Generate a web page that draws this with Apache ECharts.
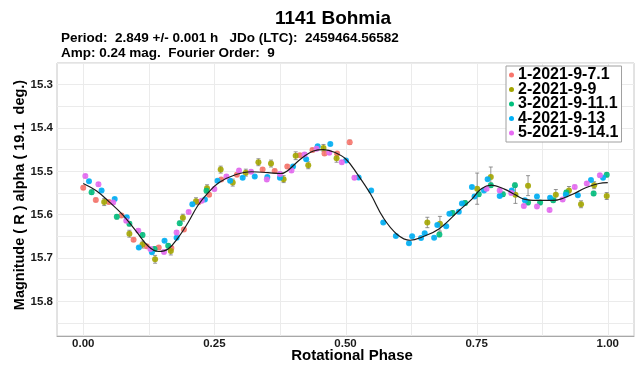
<!DOCTYPE html>
<html><head><meta charset="utf-8">
<script src="https://cdn.jsdelivr.net/npm/echarts@6/dist/echarts.min.js"></script>
<style>html,body{margin:0;padding:0;background:#fff}#c{width:637px;height:365px}</style>
</head><body><div id="c"></div>
<script>
const titleText = '1141 Bohmia';
const subLine1 = 'Period:  2.849 +/- 0.001 h   JDo (LTC):  2459464.56582';
const subLine2 = 'Amp: 0.24 mag.  Fourier Order:  9';
const xTitle = 'Rotational Phase';
const yTitle = 'Magnitude ( R ) alpha ( 19.1  deg.)';
const seriesNames = ['1-2021-9-7.1','2-2021-9-9','3-2021-9-11.1','4-2021-9-13','5-2021-9-14.1'];
const seriesColors = ['#F8766D','#A3A500','#00BF7D','#00B0F6','#E76BF3'];
const xTicks = [0, 0.25, 0.5, 0.75, 1];
const xGrid = [0, 0.125, 0.25, 0.375, 0.5, 0.625, 0.75, 0.875, 1];
const yTicks = [15.3, 15.4, 15.5, 15.6, 15.7, 15.8];

// [phase, mag, err]
const s1 = [[0.000,15.538,0.004],[0.024,15.566,0.004],[0.049,15.571,0.004],[0.073,15.602,0.004],[0.096,15.658,0.004],[0.121,15.673,0.004],[0.144,15.676,0.004],[0.168,15.677,0.004],[0.192,15.634,0.004],[0.220,15.571,0.004],[0.240,15.554,0.004],[0.263,15.519,0.004],[0.293,15.508,0.004],[0.342,15.496,0.004],[0.365,15.499,0.004],[0.389,15.489,0.004],[0.413,15.463,0.004],[0.437,15.451,0.004],[0.460,15.459,0.004],[0.484,15.459,0.004],[0.508,15.433,0.005]];
const s2 = [[0.040,15.571,0.008],[0.088,15.644,0.008],[0.113,15.669,0.008],[0.137,15.703,0.009],[0.167,15.684,0.009],[0.190,15.607,0.008],[0.215,15.569,0.008],[0.236,15.539,0.008],[0.262,15.496,0.008],[0.285,15.526,0.008],[0.310,15.503,0.008],[0.334,15.479,0.008],[0.358,15.482,0.008],[0.382,15.518,0.008],[0.405,15.464,0.009],[0.429,15.486,0.008],[0.458,15.446,0.008],[0.483,15.470,0.009],[0.656,15.618,0.012],[0.680,15.621,0.017],[0.751,15.540,0.036],[0.777,15.513,0.023],[0.824,15.554,0.020],[0.848,15.533,0.023],[0.901,15.554,0.012],[0.926,15.544,0.009],[0.949,15.576,0.008],[0.974,15.532,0.008],[0.998,15.557,0.008]];
const s3 = [[0.016,15.548,0.005],[0.064,15.605,0.005],[0.088,15.621,0.005],[0.113,15.647,0.005],[0.136,15.679,0.005],[0.162,15.672,0.005],[0.184,15.620,0.005],[0.235,15.545,0.005],[0.679,15.646,0.005],[0.704,15.596,0.005],[0.728,15.573,0.005],[0.754,15.553,0.005],[0.777,15.532,0.005],[0.800,15.553,0.005],[0.823,15.532,0.005],[0.848,15.572,0.005],[0.871,15.572,0.005],[0.896,15.567,0.005],[0.921,15.549,0.005],[0.973,15.551,0.005],[0.998,15.508,0.005]];
const s4 = [[0.011,15.523,0.003],[0.035,15.544,0.003],[0.060,15.564,0.003],[0.083,15.606,0.003],[0.106,15.676,0.003],[0.131,15.687,0.003],[0.155,15.660,0.003],[0.178,15.653,0.003],[0.208,15.576,0.003],[0.232,15.565,0.003],[0.256,15.522,0.003],[0.280,15.522,0.003],[0.304,15.515,0.003],[0.327,15.512,0.003],[0.351,15.513,0.003],[0.375,15.515,0.003],[0.400,15.489,0.003],[0.425,15.472,0.003],[0.447,15.442,0.003],[0.471,15.437,0.003],[0.501,15.475,0.003],[0.525,15.514,0.003],[0.549,15.544,0.003],[0.572,15.618,0.003],[0.596,15.649,0.003],[0.621,15.666,0.003],[0.627,15.650,0.003],[0.644,15.654,0.003],[0.651,15.643,0.003],[0.669,15.653,0.003],[0.675,15.624,0.003],[0.692,15.627,0.003],[0.698,15.598,0.003],[0.716,15.593,0.003],[0.722,15.574,0.003],[0.741,15.536,0.003],[0.746,15.558,0.003],[0.764,15.544,0.003],[0.771,15.518,0.003],[0.794,15.557,0.003],[0.817,15.544,0.003],[0.842,15.567,0.003],[0.865,15.558,0.003],[0.890,15.561,0.003],[0.920,15.554,0.003],[0.943,15.555,0.003],[0.968,15.520,0.003],[0.991,15.515,0.003]];
const s5 = [[0.004,15.511,0.004],[0.029,15.530,0.004],[0.057,15.572,0.004],[0.082,15.614,0.004],[0.105,15.637,0.004],[0.128,15.679,0.004],[0.154,15.686,0.004],[0.178,15.641,0.004],[0.201,15.594,0.004],[0.226,15.568,0.004],[0.250,15.541,0.004],[0.273,15.512,0.004],[0.297,15.498,0.004],[0.320,15.501,0.004],[0.350,15.519,0.004],[0.375,15.506,0.004],[0.397,15.498,0.004],[0.422,15.461,0.004],[0.445,15.448,0.004],[0.469,15.457,0.004],[0.493,15.479,0.004],[0.517,15.515,0.004],[0.769,15.540,0.004],[0.794,15.544,0.004],[0.816,15.550,0.004],[0.840,15.580,0.004],[0.865,15.581,0.004],[0.889,15.589,0.004],[0.914,15.565,0.004],[0.937,15.536,0.004],[0.960,15.528,0.004],[0.985,15.509,0.004]];

// Fourier fit curve
const curve = [[0.000,15.528],[0.025,15.545],[0.050,15.571],[0.075,15.600],[0.100,15.637],[0.125,15.674],[0.144,15.685],[0.162,15.679],[0.181,15.653],[0.200,15.618],[0.218,15.580],[0.237,15.551],[0.259,15.526],[0.290,15.508],[0.321,15.501],[0.352,15.503],[0.377,15.505],[0.389,15.499],[0.414,15.472],[0.439,15.453],[0.458,15.450],[0.479,15.456],[0.501,15.472],[0.523,15.507],[0.548,15.553],[0.572,15.607],[0.598,15.645],[0.623,15.659],[0.647,15.651],[0.678,15.633],[0.716,15.591],[0.741,15.564],[0.759,15.540],[0.778,15.532],[0.803,15.541],[0.822,15.553],[0.840,15.564],[0.865,15.567],[0.896,15.567],[0.915,15.562],[0.933,15.553],[0.958,15.538],[0.983,15.528],[1.000,15.526]];

const allSets = [s1, s2, s3, s4, s5];
const FONT = 'Liberation Sans, Arial, sans-serif';

const chart = echarts.init(document.getElementById('c'), null, {renderer: 'canvas'});

const series = [];
// vertical grid lines (one per x grid value) drawn behind everything
series.push({
  type: 'custom',
  name: 'xgrid',
  silent: true,
  z: 0,
  renderItem: function (params, api) {
    const top = api.coord([api.value(0), 15.25]);
    const bottom = api.coord([api.value(0), 15.88]);
    const x = Math.round(top[0]) + 0.5;
    return {type: 'line', shape: {x1: x, y1: top[1], x2: x, y2: bottom[1]}, style: {stroke: '#ebebeb', lineWidth: 1}};
  },
  data: xGrid.map(v => [v])
});
allSets.forEach((set, i) => {
  series.push({
    type: 'custom',
    name: seriesNames[i],
    silent: true,
    z: 1,
    renderItem: function (params, api) {
      const x = api.value(0), lo = api.value(1), hi = api.value(2);
      const p1 = api.coord([x, lo]);
      const p2 = api.coord([x, hi]);
      const c = 2;
      return {
        type: 'group',
        children: [
          {type: 'line', shape: {x1: p1[0], y1: p1[1], x2: p2[0], y2: p2[1]}, style: {stroke: '#7a7a7a', lineWidth: 0.8}},
          {type: 'line', shape: {x1: p1[0]-c, y1: p1[1], x2: p1[0]+c, y2: p1[1]}, style: {stroke: '#7a7a7a', lineWidth: 0.8}},
          {type: 'line', shape: {x1: p2[0]-c, y1: p2[1], x2: p2[0]+c, y2: p2[1]}, style: {stroke: '#7a7a7a', lineWidth: 0.8}}
        ]
      };
    },
    data: set.map(d => [d[0], d[1]-d[2], d[1]+d[2]])
  });
  series.push({
    type: 'scatter',
    name: seriesNames[i],
    symbol: 'circle',
    symbolSize: 6,
    clip: false,
    z: 2,
    itemStyle: {color: seriesColors[i], opacity: 0.9},
    data: set.map(d => [d[0], d[1]])
  });
});
series.push({
  type: 'line',
  name: 'fit',
  data: curve,
  smooth: 0.4,
  showSymbol: false,
  symbol: 'none',
  z: 3,
  lineStyle: {color: '#1a1a1a', width: 1.2}
});

const option = {
  animation: false,
  backgroundColor: '#ffffff',
  grid: {left: 57, top: 63, right: -9, bottom: 29, show: true, borderColor: '#c6c6c6', borderWidth: 1},
  xAxis: {
    type: 'value', min: -0.05, max: 1.05, interval: 0.025,
    axisLine: {show: true, onZero: false, lineStyle: {color: '#a8a8a8', width: 1}},
    axisTick: {show: false},
    splitLine: {show: false},
    axisLabel: {
      margin: 2, color: '#1a1a1a', fontWeight: 'bold', fontSize: 11.5, fontFamily: FONT,
      formatter: v => xTicks.some(t => Math.abs(t - v) < 1e-6) ? v.toFixed(2) : ''
    }
  },
  yAxis: {
    type: 'value', inverse: true, min: 15.25, max: 15.88, interval: 0.05,
    axisLine: {show: false}, axisTick: {show: false},
    splitLine: {show: true, lineStyle: {color: '#ebebeb', width: 1}},
    axisLabel: {
      margin: 4, color: '#1a1a1a', fontWeight: 'bold', fontSize: 11.5, fontFamily: FONT,
      showMaxLabel: false,
      formatter: v => yTicks.some(t => Math.abs(t - v) < 1e-6) ? v.toFixed(1) : ''
    }
  },
  legend: {
    data: seriesNames.map((n, i) => ({name: n, icon: 'circle', itemStyle: {color: seriesColors[i]}})),
    orient: 'vertical', left: 506, top: 66,
    backgroundColor: '#ffffff', borderColor: '#a0a0a0', borderWidth: 1,
    padding: [1, 3, 1, 3], itemGap: -1.5, itemWidth: 5, itemHeight: 5,
    selectedMode: false,
    textStyle: {fontSize: 16, fontWeight: 'bold', color: '#000', fontFamily: FONT, padding: [0,0,0,-1]}
  },
  graphic: [
    {type: 'text', position: [333, 19], style: {text: titleText, fill: '#000', font: 'bold 19px ' + FONT, textAlign: 'center', textVerticalAlign: 'middle'}},
    {type: 'text', position: [61, 38], style: {text: subLine1, fill: '#000', font: 'bold 13.5px ' + FONT, textAlign: 'left', textVerticalAlign: 'middle'}},
    {type: 'text', position: [61, 53], style: {text: subLine2, fill: '#000', font: 'bold 13.5px ' + FONT, textAlign: 'left', textVerticalAlign: 'middle'}},
    {type: 'text', position: [352, 356], style: {text: xTitle, fill: '#000', font: 'bold 15px ' + FONT, textAlign: 'center', textVerticalAlign: 'middle'}},
    {type: 'text', position: [20, 195], rotation: Math.PI / 2, style: {text: yTitle, fill: '#000', font: 'bold 14.5px ' + FONT, textAlign: 'center', textVerticalAlign: 'middle'}}
  ],
  series: series
};
chart.setOption(option);
</script>
</body></html>
